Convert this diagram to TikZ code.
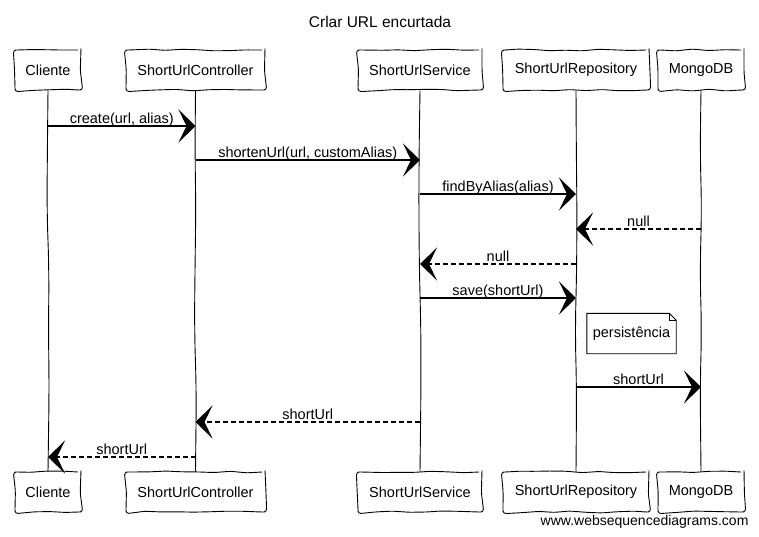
\documentclass[tikz,border=0pt]{standalone}
\usepackage{fontspec}
\setmainfont{Liberation Sans}
\usetikzlibrary{arrows.meta,decorations.pathmorphing}
\begin{document}
\begin{tikzpicture}[x=1pt,y=-1pt,
  actor/.style={draw, line width=0.9pt, minimum height=40pt, inner sep=0pt,
    font=\fontsize{14.5}{16}\selectfont,
    decorate, decoration={random steps, segment length=16pt, amplitude=1pt}, rounded corners=3pt},
  life/.style={line width=0.9pt, decorate, decoration={random steps, segment length=60pt, amplitude=1.2pt}, rounded corners=25pt},
  msg/.style={line width=1.2pt, -{Stealth[length=17pt,width=33pt,inset=8pt]}},
  ret/.style={msg, dash pattern=on 5pt off 3pt},
  lbl/.style={font=\fontsize{14.5}{16}\selectfont, inner sep=0pt, anchor=base, yshift=2.5pt},
  notebox/.style={line width=0.9pt},
  notetxt/.style={font=\fontsize{14.5}{16}\selectfont, minimum width=89pt, minimum height=40pt, inner sep=0pt}
]
\pgfmathsetseed{11}
\useasboundingbox (0,0) rectangle (759,536);

\node[font=\fontsize{15.5}{18}\selectfont] (title) at (380,22) {Crlar URL encurtada};

% top actors
\node[actor, minimum width=66pt]  (t1) at (48,70)    {Cliente};
\node[actor, minimum width=139pt] (t2) at (195.5,70) {ShortUrlController};
\node[actor, minimum width=124pt] (t3) at (420,70)   {ShortUrlService};
\node[actor, minimum width=146pt] (t4) at (576,70)   {ShortUrlRepository};
\node[actor, minimum width=86pt]  (t5) at (701,70)   {MongoDB};
% bottom actors
\node[actor, minimum width=66pt]  (b1) at (48,492)    {Cliente};
\node[actor, minimum width=139pt] (b2) at (195.5,492) {ShortUrlController};
\node[actor, minimum width=124pt] (b3) at (420,492)   {ShortUrlService};
\node[actor, minimum width=146pt] (b4) at (576,492)   {ShortUrlRepository};
\node[actor, minimum width=86pt]  (b5) at (701,492)   {MongoDB};

% lifelines
\draw[life] (t1) -- (b1);
\draw[life] (t2) -- (b2);
\draw[life] (t3) -- (b3);
\draw[life] (t4) -- (b4);
\draw[life] (t5) -- (b5);

% message levels
\coordinate (y1) at (0,126);
\coordinate (y2) at (0,160);
\coordinate (y3) at (0,194);
\coordinate (y4) at (0,229);
\coordinate (y5) at (0,264);
\coordinate (y6) at (0,298);
\coordinate (y7) at (0,387);
\coordinate (y8) at (0,422);
\coordinate (y9) at (0,457);

\draw[msg] (t1 |- y1) -- node[lbl] {create(url, alias)} (t2 |- y1);
\draw[msg] (t2 |- y2) -- node[lbl] {shortenUrl(url, customAlias)} (t3 |- y2);
\draw[msg] (t3 |- y3) -- node[lbl] {findByAlias(alias)} (t4 |- y3);
\draw[ret] (t5 |- y4) -- node[lbl] {null} (t4 |- y4);
\draw[ret] (t4 |- y5) -- node[lbl] {null} (t3 |- y5);
\draw[msg] (t3 |- y6) -- node[lbl] {save(shortUrl)} (t4 |- y6);

% note
\node[notetxt] (n) at (631.5,333.5) {persistência};
\draw[notebox] (n.south west) -- (n.north west) -- ([xshift=-7pt]n.north east)
  -- ([yshift=-7pt]n.north east) -- (n.south east) -- cycle;
\draw[line width=0.6pt] ([xshift=-7pt]n.north east) -- ([xshift=-7pt,yshift=-7pt]n.north east) -- ([yshift=-7pt]n.north east);

\draw[msg] (t4 |- y7) -- node[lbl] {shortUrl} (t5 |- y7);
\draw[ret] (t3 |- y8) -- node[lbl] {shortUrl} (t2 |- y8);
\draw[ret] (t2 |- y9) -- node[lbl] {shortUrl} (t1 |- y9);

\node[font=\fontsize{14}{16}\selectfont, anchor=east] (foot) at (752,522) {www.websequencediagrams.com};
\end{tikzpicture}
\end{document}
